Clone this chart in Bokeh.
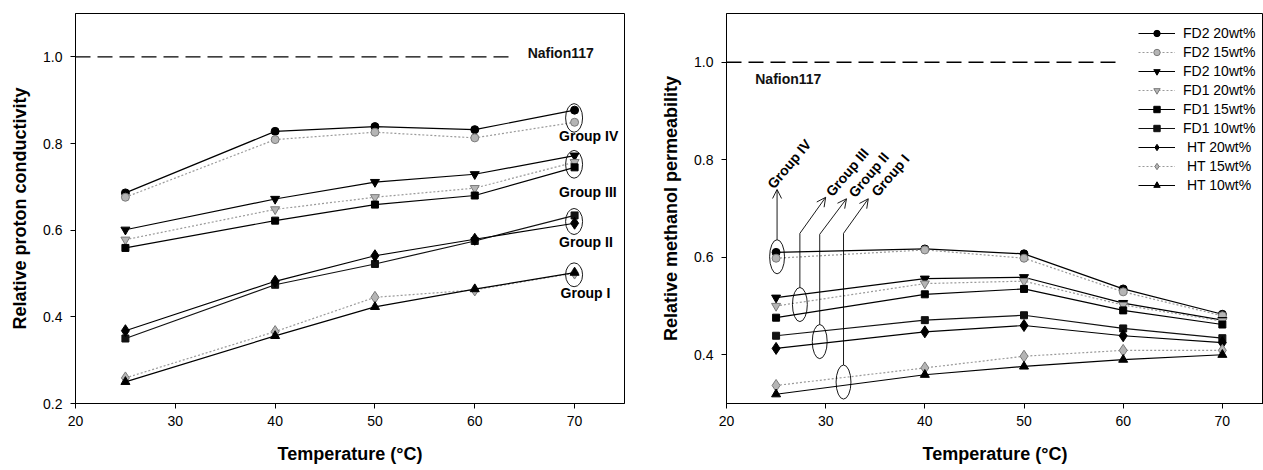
from bokeh.plotting import figure
from bokeh.layouts import row
from bokeh.models import (Legend, LegendItem, Arrow, OpenHead, FixedTicker,
                          NumeralTickFormatter, Range1d, ColumnDataSource)
from bokeh.core.properties import value
from bokeh.embed import file_html
from bokeh.resources import INLINE

# ---------------- data ----------------
temps = [25, 40, 50, 60, 70]
series_names = ["FD2 20wt%", "FD2 15wt%", "FD2 10wt%", "FD1 20wt%", "FD1 15wt%",
                "FD1 10wt%", " HT 20wt%", " HT 15wt%", " HT 10wt%"]

# relative proton conductivity (left)
cond_fd2_20 = [0.686, 0.828, 0.839, 0.832, 0.877]
cond_fd2_15 = [0.676, 0.809, 0.826, 0.813, 0.849]
cond_fd2_10 = [0.601, 0.672, 0.711, 0.729, 0.772]
cond_fd1_20 = [0.578, 0.648, 0.676, 0.697, 0.757]
cond_fd1_15 = [0.559, 0.622, 0.659, 0.680, 0.745]
cond_fd1_10 = [0.350, 0.474, 0.522, 0.575, 0.634]
cond_ht_20 = [0.368, 0.482, 0.541, 0.579, 0.616]
cond_ht_15 = [0.259, 0.366, 0.445, 0.462, 0.501]
cond_ht_10 = [0.250, 0.356, 0.423, 0.464, 0.502]

# relative methanol permeability (right)
perm_fd2_20 = [0.610, 0.617, 0.607, 0.535, 0.483]
perm_fd2_15 = [0.598, 0.615, 0.598, 0.529, 0.480]
perm_fd2_10 = [0.517, 0.556, 0.559, 0.506, 0.471]
perm_fd1_20 = [0.500, 0.546, 0.551, 0.502, 0.469]
perm_fd1_15 = [0.476, 0.524, 0.535, 0.491, 0.462]
perm_fd1_10 = [0.439, 0.471, 0.481, 0.454, 0.434]
perm_ht_20 = [0.413, 0.447, 0.460, 0.439, 0.425]
perm_ht_15 = [0.337, 0.373, 0.397, 0.409, 0.409]
perm_ht_10 = [0.319, 0.359, 0.376, 0.390, 0.400]

cond_series = [cond_fd2_20, cond_fd2_15, cond_fd2_10, cond_fd1_20, cond_fd1_15,
               cond_fd1_10, cond_ht_20, cond_ht_15, cond_ht_10]
perm_series = [perm_fd2_20, perm_fd2_15, perm_fd2_10, perm_fd1_20, perm_fd1_15,
               perm_fd1_10, perm_ht_20, perm_ht_15, perm_ht_10]

x_ticks = [20, 30, 40, 50, 60, 70]
cond_y_ticks = [0.2, 0.4, 0.6, 0.8, 1.0]
perm_y_ticks = [0.4, 0.6, 0.8, 1.0]

nafion_value = 1.0
nafion_label = "Nafion117"
group_names = ["Group IV", "Group III", "Group II", "Group I"]

# annotation anchors (data units)
left_nafion_x = [20, 64.0]
left_nafion_text = (65.3, 1.008)
left_group_text_x = [68.45, 68.45, 68.45, 68.6]
left_group_text_y = [0.817, 0.688, 0.572, 0.454]
left_ell_x = [69.95, 69.95, 69.95, 69.95]
left_ell_y = [0.859, 0.752, 0.620, 0.497]
left_ell_h = [0.066, 0.064, 0.060, 0.055]

right_nafion_x = [20, 59.5]
right_nafion_text = (22.9, 0.965)
right_ell_x = [25.1, 27.4, 29.4, 31.8]
right_ell_y = [0.601, 0.503, 0.427, 0.344]
right_arrow_bend_y = [0.636, 0.649, 0.647, 0.649]
right_arrow_tip_x = [25.1, 30.0, 32.1, 34.3]
right_arrow_tip_y = [0.739, 0.723, 0.720, 0.720]
right_group_text_x = [24.4, 30.3, 32.6, 34.9]
right_group_text_y = [0.745, 0.729, 0.727, 0.729]

# ---------------- styles ----------------
FONT = "Liberation Sans"
BLACK = "#000000"
GRAY = "#9a9a9a"
styles = [
    dict(color=BLACK, marker="circle", dash="solid", size=8),
    dict(color=GRAY, marker="circle", dash="2 2", size=8),
    dict(color=BLACK, marker="inverted_triangle", dash="solid", size=9),
    dict(color=GRAY, marker="inverted_triangle", dash="2 2", size=9),
    dict(color=BLACK, marker="square", dash="solid", size=7),
    dict(color="#111111", marker="square", dash="solid", size=7),
    dict(color=BLACK, marker="diamond", dash="solid", size=12),
    dict(color=GRAY, marker="diamond", dash="2 2", size=12),
    dict(color=BLACK, marker="triangle", dash="solid", size=9),
]


def style_axes(p, yticks):
    p.xgrid.visible = False
    p.ygrid.visible = False
    p.outline_line_color = BLACK
    p.outline_line_width = 1
    for ax in (p.xaxis[0], p.yaxis[0]):
        ax.axis_line_color = BLACK
        ax.major_tick_line_color = BLACK
        ax.major_tick_out = 5
        ax.major_tick_in = 0
        ax.minor_tick_line_color = None
        ax.major_label_text_font = FONT
        ax.major_label_text_font_size = "14px"
        ax.major_label_text_color = BLACK
        ax.axis_label_text_font = FONT
        ax.axis_label_text_font_size = "18px"
        ax.axis_label_text_font_style = "bold"
        ax.axis_label_text_color = BLACK
    p.xaxis[0].ticker = FixedTicker(ticks=x_ticks)
    p.yaxis[0].ticker = FixedTicker(ticks=yticks)
    p.yaxis[0].formatter = NumeralTickFormatter(format="0.0")
    p.xaxis[0].major_label_standoff = 7
    p.yaxis[0].major_label_standoff = 8
    p.xaxis[0].axis_label_standoff = 15
    p.yaxis[0].axis_label_standoff = 10


def draw_series(p, series_list):
    items = []
    for name, vals, st in zip(series_names, series_list, styles):
        src = ColumnDataSource(dict(x=temps, y=vals))
        ln = p.line("x", "y", source=src, line_color=st["color"], line_width=1.2,
                    line_dash=st["dash"])
        fill = st["color"] if st["color"] != GRAY else "#b5b5b5"
        lc = st["color"] if st["color"] != GRAY else "#7a7a7a"
        sc = p.scatter("x", "y", source=src, marker=st["marker"], size=st["size"],
                       fill_color=fill, line_color=lc, line_width=1)
        items.append(LegendItem(label=name, renderers=[ln, sc]))
    return items


# ---------------- left figure ----------------
p1 = figure(width=640, height=470, output_backend="svg", toolbar_location=None,
            x_range=Range1d(20, 75), y_range=Range1d(0.2, 1.1),
            min_border_left=75, min_border_right=16, min_border_top=13,
            min_border_bottom=67,
            x_axis_label="Temperature (°C)", y_axis_label="Relative proton conductivity")
style_axes(p1, cond_y_ticks)
p1.line(left_nafion_x, [nafion_value] * len(left_nafion_x), line_color=BLACK,
        line_width=1.3, line_dash="15 7")
p1.text(x=[left_nafion_text[0]], y=[left_nafion_text[1]], text=[nafion_label],
        text_font=value(FONT), text_font_size="14px", text_font_style="bold",
        text_baseline="middle", text_align="left", text_color="#111111")
draw_series(p1, cond_series)
p1.ellipse(x=left_ell_x, y=left_ell_y, width=1.7, height=left_ell_h,
           fill_color=None, line_color=BLACK, line_width=0.9)
p1.text(x=left_group_text_x, y=left_group_text_y, text=group_names,
        text_font=value(FONT), text_font_size="14px", text_font_style="bold",
        text_baseline="middle", text_align="left", text_color=BLACK)

# ---------------- right figure ----------------
p2 = figure(width=623, height=470, output_backend="svg", toolbar_location=None,
            x_range=Range1d(20, 74.15), y_range=Range1d(0.3, 1.1),
            min_border_left=86, min_border_right=0, min_border_top=13,
            min_border_bottom=67,
            x_axis_label="Temperature (°C)", y_axis_label="Relative methanol permeability")
style_axes(p2, perm_y_ticks)
p2.line(right_nafion_x, [nafion_value] * len(right_nafion_x), line_color=BLACK,
        line_width=1.3, line_dash="15 7")
p2.text(x=[right_nafion_text[0]], y=[right_nafion_text[1]], text=[nafion_label],
        text_font=value(FONT), text_font_size="14px", text_font_style="bold",
        text_baseline="middle", text_align="left", text_color="#111111")
items = draw_series(p2, perm_series)
p2.ellipse(x=right_ell_x, y=right_ell_y, width=1.5, height=0.07,
           fill_color=None, line_color=BLACK, line_width=0.9)
# connector lines from ellipse top to bend, then arrow to tip
for ex, ey, by, tx, ty in zip(right_ell_x, right_ell_y, right_arrow_bend_y,
                              right_arrow_tip_x, right_arrow_tip_y):
    p2.line([ex, ex], [ey + 0.035, by], line_color=BLACK, line_width=0.9)
    p2.add_layout(Arrow(end=OpenHead(size=9, line_width=0.9, line_color=BLACK),
                        x_start=ex, y_start=by, x_end=tx, y_end=ty,
                        line_color=BLACK, line_width=0.9))
p2.text(x=right_group_text_x, y=right_group_text_y, text=group_names, angle=0.87,
        text_font=value(FONT), text_font_size="14px", text_font_style="bold",
        text_baseline="alphabetic", text_align="left", text_color=BLACK)

legend = Legend(items=items, location=(412, 210), orientation="vertical",
                glyph_width=37, glyph_height=16, label_height=16, spacing=3,
                label_standoff=8, padding=0, margin=0,
                label_text_font=FONT, label_text_font_size="14px",
                label_text_color=BLACK, border_line_alpha=0,
                background_fill_alpha=0)
p2.add_layout(legend)

layout = row(p1, p2)
open("out.html", "w").write(file_html(layout, INLINE))
